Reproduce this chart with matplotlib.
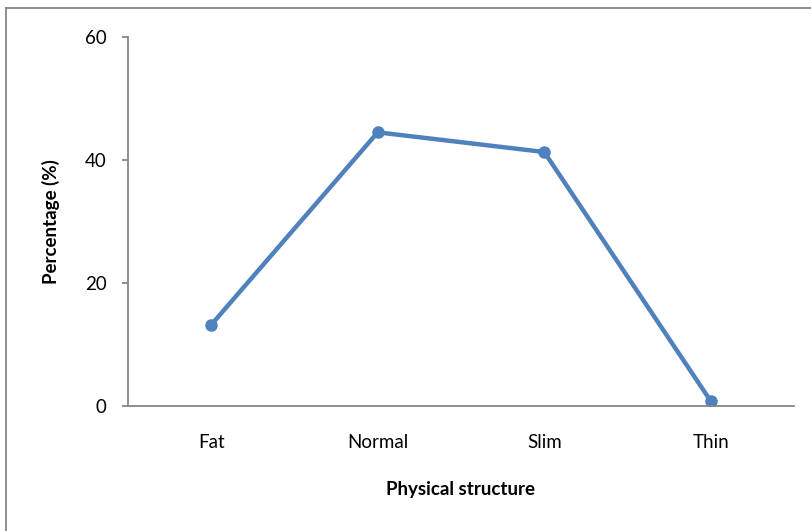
import matplotlib
matplotlib.use('Agg')
import matplotlib.pyplot as plt
from matplotlib.lines import Line2D

# data
categories = ['Fat', 'Normal', 'Slim', 'Thin']
percentages = [13.2, 44.5, 41.3, 0.8]
y_ticks = [0, 20, 40, 60]

plt.rcParams['font.family'] = ['Lato', 'DejaVu Sans']

fig = plt.figure(figsize=(8.11, 5.31), dpi=100)
ax = fig.add_axes([0.1578, 0.2354, 0.8212, 0.6949])

x = range(len(categories))
ax.plot(x, percentages, color='#4F81BD', linewidth=3.2, marker='o', markersize=8,
        solid_capstyle='round')

ax.set_xlim(-0.5, len(categories) - 0.5)
ax.set_ylim(0, 60)
ax.set_xticks(list(x))
ax.set_xticklabels(categories)
ax.set_yticks(y_ticks)

for s in ['top', 'right']:
    ax.spines[s].set_visible(False)
for s in ['left', 'bottom']:
    ax.spines[s].set_color('#868686')
    ax.spines[s].set_linewidth(1.3)

fs = 13.5
ax.tick_params(axis='x', length=0, pad=20, labelsize=fs)
ax.tick_params(axis='y', length=4.5, width=1.3, color='#868686', pad=11, labelsize=fs)

ax.set_ylabel('Percentage (%)', fontweight='bold', fontsize=fs, labelpad=18)
ax.set_xlabel('Physical structure', fontweight='bold', fontsize=fs, labelpad=22)

# outer chart border (only top and left edge visible)
fig.add_artist(Line2D([0.0068, 1.0], [0.984, 0.984], transform=fig.transFigure,
                      color='#868686', linewidth=1.3))
fig.add_artist(Line2D([0.0068, 0.0068], [0.0, 0.984], transform=fig.transFigure,
                      color='#868686', linewidth=1.3))

fig.savefig('out.png', dpi=100)
